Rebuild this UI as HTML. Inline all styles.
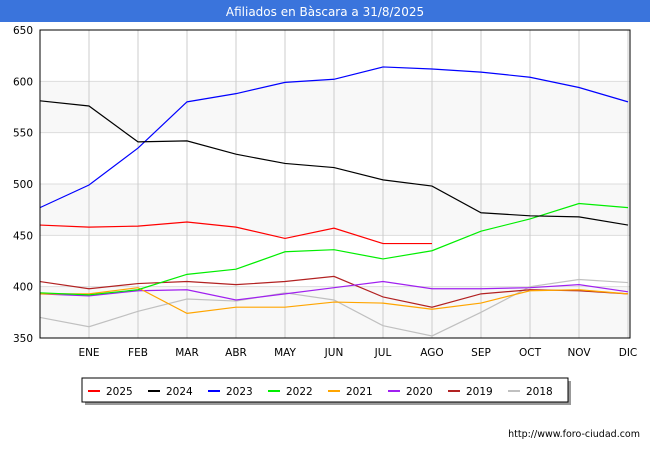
<!DOCTYPE html>
<html><head><meta charset="utf-8"><style>
body{margin:0;width:650px;height:450px;background:#fff;font-family:"DejaVu Sans","Liberation Sans",sans-serif;overflow:hidden}
svg text{font-family:"DejaVu Sans","Liberation Sans",sans-serif}
</style></head><body>
<svg width="650" height="450" xmlns="http://www.w3.org/2000/svg">
<rect x="0" y="0" width="650" height="22" fill="#3a74dc"/>
<text x="325" y="16" text-anchor="middle" fill="#fff" font-size="12">Afiliados en Bàscara a 31/8/2025</text>
<g id="bands"></g><g id="grid"></g><g id="lines"></g><g id="axes"></g>
<rect x="40" y="30" width="590" height="308" fill="none" stroke="#000" stroke-width="1"/>
<rect x="85" y="381" width="486" height="24" fill="#999"/>
<rect x="82" y="378" width="486" height="24" fill="#fff" stroke="#000"/>
<g id="legend"></g>
<text x="640" y="437" text-anchor="end" font-size="9.5" fill="#000">http://www.foro-ciudad.com</text>
</svg>
<script>
const months=["","ENE","FEB","MAR","ABR","MAY","JUN","JUL","AGO","SEP","OCT","NOV","DIC"];
const yTicks=[350,400,450,500,550,600,650];
const seriesNames=["2025","2024","2023","2022","2021","2020","2019","2018"];
const seriesColors=["#ff0000","#000000","#0000ff","#00ee00","#ffa500","#a020f0","#b22222","#c0c0c0"];
const s2025=[460,458,459,463,458,447,457,442,442];
const s2024=[581,576,541,542,529,520,516,504,498,472,469,468,460];
const s2023=[477,499,535,580,588,599,602,614,612,609,604,594,580];
const s2022=[394,392,397,412,417,434,436,427,435,454,466,481,477];
const s2021=[393,393,399,374,380,380,385,384,378,384,396,397,393];
const s2020=[393,391,396,397,387,393,399,405,398,398,399,402,395];
const s2019=[405,398,403,405,402,405,410,390,380,393,397,396,393];
const s2018=[370,361,376,388,386,394,387,362,352,375,400,407,404];
const allSeries=[s2025,s2024,s2023,s2022,s2021,s2020,s2019,s2018];
const NS="http://www.w3.org/2000/svg";
const X=i=>40+i*49;
const Y=v=>338-(v-350)*308/300;
function mk(t,a,p){const e=document.createElementNS(NS,t);for(const k in a)e.setAttribute(k,a[k]);document.getElementById(p).appendChild(e);return e;}
for(let i=0;i<yTicks.length-1;i++){
 if(i%2===0){const r=mk("rect",{x:40,y:Y(yTicks[i+1]),width:590,height:Y(yTicks[i])-Y(yTicks[i+1]),fill:"#f8f8f8"},"bands");
 
 }
}
yTicks.forEach(v=>{
 const l=mk("line",{x1:40,x2:630,y1:Y(v),y2:Y(v),stroke:"#ddd"},"grid");
 
 
 const t=mk("text",{x:33,y:Y(v)+4,"text-anchor":"end","font-size":"10.5"},"axes");t.textContent=v;
 
 
});
months.forEach((m,i)=>{
 if(i===0)return;
 const l=mk("line",{x1:X(i),x2:X(i),y1:30,y2:338,stroke:"#ccc"},"grid");
 
 
 const t=mk("text",{x:X(i),y:356,"text-anchor":"middle","font-size":"10.5"},"axes");t.textContent=m;
 
 
});
for(let k=allSeries.length-1;k>=0;k--){
 const d=allSeries[k].map((v,i)=>X(i)+","+Y(v)).join(" ");
 const p=mk("polyline",{points:d,fill:"none",stroke:seriesColors[k],"stroke-width":1.2},"lines");
 
 
}
seriesNames.forEach((n,k)=>{
 const x=88+k*60;
 const l=mk("line",{x1:x,x2:x+12,y1:391,y2:391,stroke:seriesColors[k],"stroke-width":2},"legend");
 
 
 const t=mk("text",{x:x+18,y:395,"font-size":"10.5"},"legend");t.textContent=n;
 
 
});
</script>
</body></html>
